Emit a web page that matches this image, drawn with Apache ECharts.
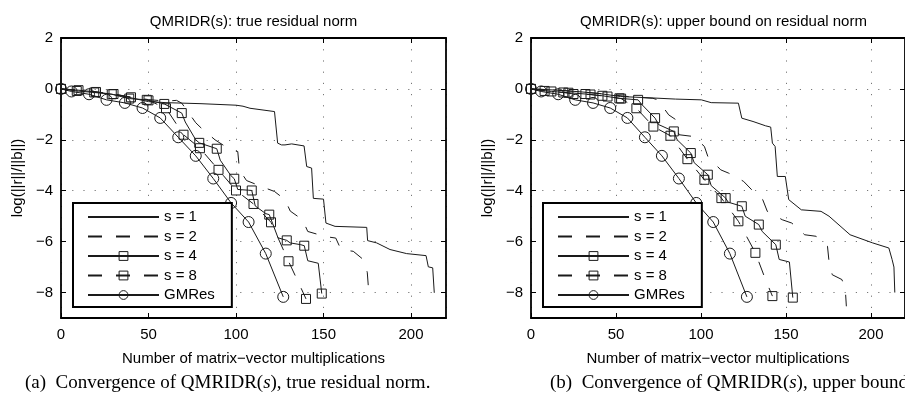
<!DOCTYPE html>
<html><head><meta charset="utf-8">
<script src="https://cdn.jsdelivr.net/npm/echarts@6/dist/echarts.min.js"></script>
<style>html,body{margin:0;padding:0;background:#fff}#c{width:905px;height:396px}</style>
</head><body><div id="c"></div>
<script>
// ---------- data ----------
const xTickValues = [0, 50, 100, 150, 200];
const yTickValues = [-8, -6, -4, -2, 0, 2];
const seriesNames = ['s = 1', 's = 2', 's = 4', 's = 8', 'GMRes'];
const panelTitles = ['QMRIDR(s): true residual norm', 'QMRIDR(s): upper bound on residual norm'];
const captions = ['(a)  Convergence of QMRIDR({i|s}), true residual norm.', '(b)  Convergence of QMRIDR({i|s}), upper bound on residual norm.'];
const xName = 'Number of matrix\u2212vector multiplications';
const yName = 'log(||r||/||b||)';

// GMRes (same in both panels)
const gm_x = [0, 6, 16, 26, 36.5, 46.6, 56.7, 67, 77, 87, 97.2, 107.2, 117, 127];
const gm_y = [0, -0.1, -0.21, -0.43, -0.55, -0.75, -1.14, -1.9, -2.63, -3.52, -4.48, -5.23, -6.47, -8.17];
const gm_marks = [0, 6, 16, 26, 36.5, 46.6, 56.7, 67, 77, 87, 97.2, 107.2, 117, 127];

// Left panel: true residual norm
const L1_x = [0, 10, 20, 30, 40, 50, 60, 80, 100, 104, 108, 122, 123.8, 126, 128, 131.8, 138.9, 140.4, 143.2, 144.2, 150, 151.4, 156.6, 174.7, 175.2, 180.4, 188, 197.5, 208.6, 209.9, 212.4, 213.3];
const L1_y = [0, -0.05, -0.12, -0.22, -0.35, -0.5, -0.54, -0.58, -0.64, -0.68, -0.76, -0.89, -2.13, -2.2, -2.2, -2.16, -2.24, -3.05, -3.11, -4.3, -4.33, -5.27, -5.4, -5.44, -5.96, -6.05, -6.31, -6.47, -6.55, -6.99, -7.03, -8.01];
const L2_x = [0, 10, 20, 30, 40, 50, 60, 66, 69, 77, 80, 88, 97, 101, 102, 106, 117, 122, 128, 131, 138, 141, 151, 157, 160, 167, 172.7, 175, 176];
const L2_y = [0, -0.05, -0.12, -0.2, -0.32, -0.42, -0.48, -0.45, -0.56, -1.33, -1.53, -2.0, -2.4, -2.46, -3.18, -3.6, -3.9, -4.03, -4.35, -4.8, -5.14, -5.6, -5.8, -5.86, -6.31, -6.38, -6.7, -7.2, -8.1];
const L4_x = [0, 9, 19, 29, 39, 49, 59, 69, 71, 77, 79, 89, 91, 97, 99, 101, 107, 109, 111, 117, 119, 121, 124, 129, 131, 137, 139, 141, 147, 149];
const L4_y = [0, -0.08, -0.14, -0.21, -0.38, -0.43, -0.59, -0.95, -1.3, -2.0, -2.12, -2.35, -2.8, -3.4, -3.53, -3.95, -3.98, -3.99, -4.6, -4.9, -4.94, -5.3, -5.85, -5.95, -6.05, -6.12, -6.16, -6.75, -6.85, -8.04];
const L4_marks = [0, 9, 19, 29, 39, 49, 59, 69, 79, 89, 99, 109, 119, 129, 139, 149];
const L8_x = [0, 10, 20, 30, 40, 50, 60, 70, 79.4, 90, 100, 110, 120, 130, 137, 140];
const L8_y = [0, -0.05, -0.12, -0.2, -0.33, -0.45, -0.76, -1.8, -2.33, -3.18, -3.99, -4.52, -5.24, -6.77, -7.8, -8.25];
const L8_marks = [0, 10, 20, 30, 40, 50, 60, 70, 79.4, 90, 100, 110, 120, 130, 140];

// Right panel: upper bound on residual norm
const R1_x = [0, 10, 20, 30, 40, 52.7, 70, 85, 100.2, 106, 122, 124, 130.6, 138, 141, 142, 143.6, 144.9, 149.6, 151.6, 152.5, 159, 170.6, 175.3, 187.7, 201, 210.5, 212.4, 213.5, 214];
const R1_y = [0, -0.03, -0.07, -0.12, -0.18, -0.3, -0.35, -0.4, -0.43, -0.54, -0.56, -1.15, -1.28, -1.45, -1.5, -2.13, -2.26, -3.44, -3.44, -4.35, -4.35, -4.75, -4.81, -5.0, -5.73, -6.05, -6.25, -6.7, -7.0, -8.0];
const R2_x = [0, 10, 20, 30, 40, 50, 60, 71.7, 74.6, 81, 85, 87, 95.6, 102, 104, 111.6, 116.3, 125, 129.8, 136.3, 139, 147.8, 153.4, 161, 167.7, 174.4, 175.3, 177.2, 182.9, 184.9, 185.5];
const R2_y = [0, -0.03, -0.07, -0.12, -0.18, -0.25, -0.32, -0.37, -0.43, -1.02, -1.2, -1.8, -1.87, -2.26, -2.65, -3.18, -3.31, -3.63, -3.96, -4.35, -4.81, -5.14, -5.27, -5.73, -5.79, -6.18, -6.77, -7.3, -7.49, -7.88, -8.54];
const R4_x = [0, 12, 22, 32, 42, 52, 63, 65, 73, 75, 84, 86, 94, 96, 104, 106, 114.5, 116, 124, 126, 134, 136, 144, 146, 152, 154];
const R4_y = [0, -0.1, -0.15, -0.2, -0.27, -0.37, -0.43, -0.6, -1.15, -1.4, -1.67, -2.0, -2.52, -2.9, -3.37, -3.8, -4.29, -4.45, -4.61, -5.0, -5.33, -5.6, -6.12, -6.7, -6.8, -8.2];
const R4_marks = [0, 12, 22, 32, 42, 52, 63, 73, 84, 94, 104, 114.5, 124, 134, 144, 154];
const R8_x = [0, 8, 19, 25, 35, 45, 53, 62, 72, 82, 92, 102, 112, 122, 132, 138, 142];
const R8_y = [0, -0.08, -0.14, -0.2, -0.22, -0.3, -0.38, -0.76, -1.48, -1.84, -2.76, -3.57, -4.29, -5.2, -6.44, -7.5, -8.14];
const R8_marks = [0, 8, 19, 25, 35, 45, 53, 62, 72, 82, 92, 102, 112, 122, 132, 142];

// ---------- build ----------
const FONT = '"Liberation Sans", Arial, Helvetica, sans-serif';
const SERIF = '"Liberation Serif", "Times New Roman", serif';
const INK = '#1a1a1a';
const DASH = [14, 14];

function pts(xs, ys, marks) {
  return xs.map((x, i) => (marks && marks.indexOf(x) >= 0) ? [x, ys[i]] : { value: [x, ys[i]], symbol: 'none' });
}
function line(name, gi, xs, ys, marks, dashed, sym, size) {
  const hasMarks = !!marks;
  return {
    name, type: 'line', xAxisIndex: gi * 2, yAxisIndex: gi * 2,
    data: pts(xs, ys, marks), animation: false, silent: true, clip: true,
    symbol: sym || 'rect', symbolSize: size || 9, showSymbol: true,
    itemStyle: hasMarks ? { color: 'transparent', borderColor: INK, borderWidth: 1 }
                        : { color: 'transparent', borderColor: 'transparent', borderWidth: 0 },
    lineStyle: { color: INK, width: 1, type: dashed ? DASH : 'solid' },
    emphasis: { disabled: true }
  };
}
const panels = [
  [L1_x, L1_y, L2_x, L2_y, L4_x, L4_y, L4_marks, L8_x, L8_y, L8_marks],
  [R1_x, R1_y, R2_x, R2_y, R4_x, R4_y, R4_marks, R8_x, R8_y, R8_marks]
];
const series = [];
panels.forEach((p, gi) => {
  series.push(line(seriesNames[0], gi, p[0], p[1], null, false));
  series.push(line(seriesNames[1], gi, p[2], p[3], null, true));
  series.push(line(seriesNames[2], gi, p[4], p[5], p[6], false, 'rect', 9));
  series.push(line(seriesNames[3], gi, p[7], p[8], p[9], true, 'rect', 9));
  series.push(line(seriesNames[4], gi, gm_x, gm_y, gm_marks, false, 'circle', 11));
});

const gridLeft = [61, 531];
const grids = gridLeft.map(l => ({ left: l, top: 38, width: 385, height: 280, containLabel: false }));

const axisLine = { show: true, onZero: false, lineStyle: { color: '#000', width: 1.8 } };
const tick = { show: true, inside: true, length: 5, lineStyle: { color: '#000', width: 1 } };
const dotted = { show: true, lineStyle: { color: '#777', width: 1, type: [1.2, 10] } };
const fmtY = v => (yTickValues.indexOf(v) < 0 ? '' : (v < 0 ? '\u2212' + (-v) : String(v)));
const fmtX = v => (xTickValues.indexOf(v) < 0 ? '' : String(v));

const xAxes = [], yAxes = [];
[0, 1].forEach(gi => {
  xAxes.push({
    type: 'value', gridIndex: gi, position: 'bottom', min: 0, max: 220, interval: 50,
    axisLine, axisTick: tick, splitLine: dotted,
    axisLabel: { margin: 9, fontSize: 15, fontFamily: FONT, color: '#000', formatter: fmtX, showMaxLabel: false },
    name: xName, nameLocation: 'middle', nameGap: 33,
    nameTextStyle: { fontSize: 15, fontFamily: FONT, color: '#000' }
  });
  xAxes.push({
    type: 'value', gridIndex: gi, position: 'top', min: 0, max: 220, interval: 50,
    axisLine, axisTick: tick, splitLine: { show: false }, axisLabel: { show: false }
  });
  yAxes.push({
    type: 'value', gridIndex: gi, position: 'left', min: -9, max: 2, splitNumber: 5,
    axisLine, axisTick: tick, splitLine: dotted,
    axisLabel: { margin: 8, fontSize: 15, fontFamily: FONT, color: '#000', formatter: fmtY, showMinLabel: false },
    name: yName, nameLocation: 'middle', nameGap: 36,
    nameTextStyle: { fontSize: 15, fontFamily: FONT, color: '#000' }
  });
  yAxes.push({
    type: 'value', gridIndex: gi, position: 'right', min: -9, max: 2, splitNumber: 5,
    axisLine, axisTick: tick, splitLine: { show: false }, axisLabel: { show: false }
  });
});

const legendBase = {
  orient: 'vertical', top: 203, data: seriesNames, itemWidth: 71, itemHeight: 11, itemGap: 4.5,
  padding: [6.5, 17, 4.5, 14], borderColor: '#000', borderWidth: 2, backgroundColor: '#fff',
  selectedMode: false, itemStyle: { borderWidth: 1 },
  textStyle: { fontSize: 15, fontFamily: FONT, color: '#000' }
};
const legends = [Object.assign({ left: 73 }, legendBase), Object.assign({ left: 543 }, legendBase)];

const titleCenters = [253.5, 723.5];
const captionLeft = [25, 550];
const graphic = [];
[0, 1].forEach(i => {
  graphic.push({ type: 'text', x: titleCenters[i], y: 21.5, silent: true,
    style: { text: panelTitles[i], align: 'center', verticalAlign: 'middle', textAlign: 'center', textVerticalAlign: 'middle',
      font: '15px ' + FONT, fill: '#000' } });
  graphic.push({ type: 'text', x: captionLeft[i], y: 383, silent: true,
    style: { text: captions[i], align: 'left', verticalAlign: 'middle', textAlign: 'left', textVerticalAlign: 'middle',
      fontSize: 19, fontFamily: SERIF, fill: '#000',
      rich: { i: { fontStyle: 'italic', fontSize: 19, fontFamily: SERIF, fill: '#000' } } } });
});

const chart = echarts.init(document.getElementById('c'), null, { renderer: 'canvas' });
chart.setOption({
  animation: false,
  backgroundColor: '#fff',
  grid: grids, xAxis: xAxes, yAxis: yAxes,
  legend: legends, series, graphic
});
</script></body></html>
